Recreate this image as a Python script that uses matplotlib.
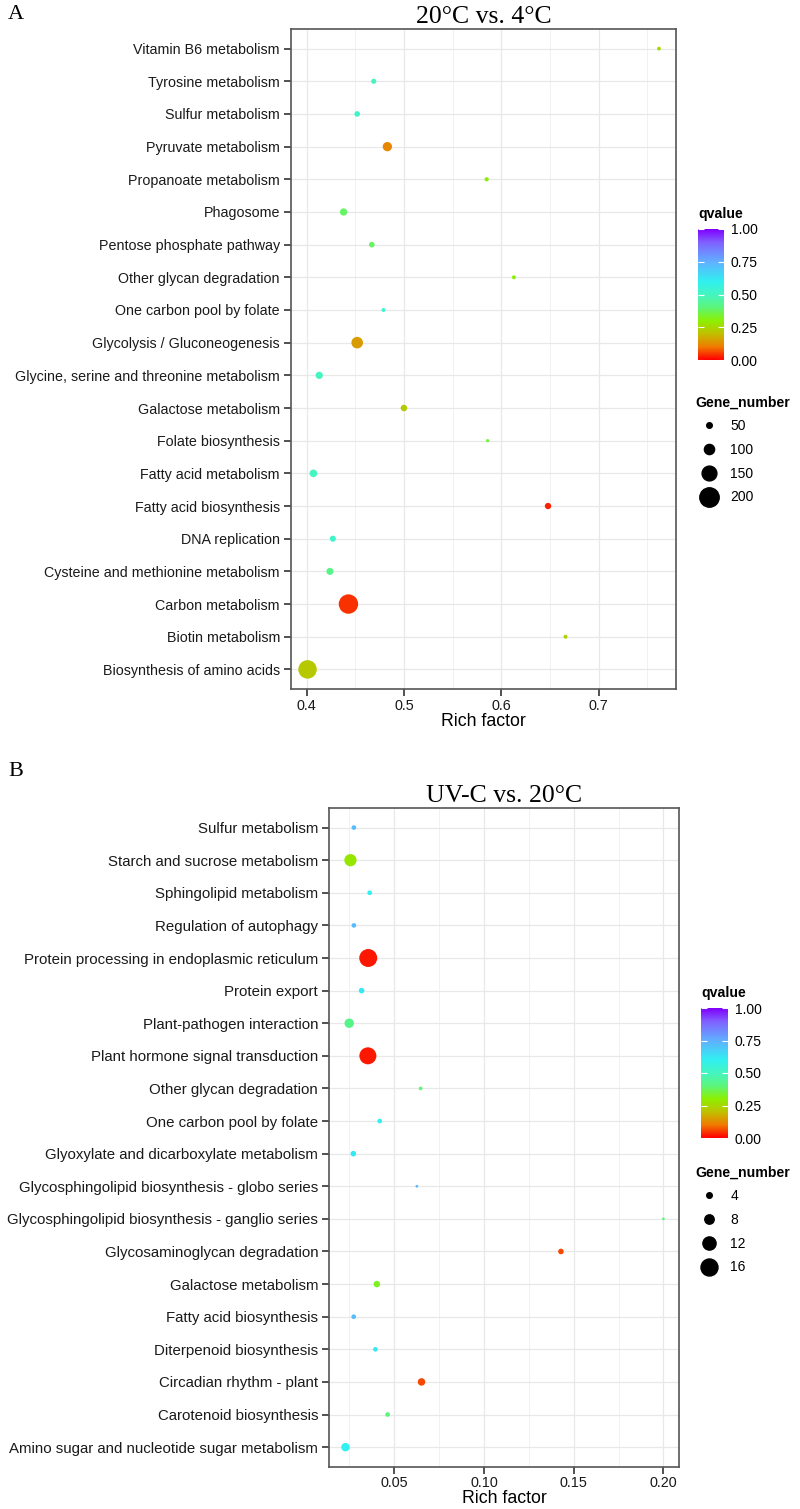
import matplotlib
matplotlib.use("Agg")
import matplotlib.pyplot as plt
import numpy as np
from matplotlib.colors import LinearSegmentedColormap, Normalize
from matplotlib.lines import Line2D

plt.rcParams['font.family'] = ['Liberation Sans', 'DejaVu Sans']

# panel A: 20°C vs. 4°C (top to bottom as shown)
terms_a = ["Vitamin B6 metabolism", "Tyrosine metabolism", "Sulfur metabolism",
           "Pyruvate metabolism", "Propanoate metabolism", "Phagosome",
           "Pentose phosphate pathway", "Other glycan degradation",
           "One carbon pool by folate", "Glycolysis / Gluconeogenesis",
           "Glycine, serine and threonine metabolism", "Galactose metabolism",
           "Folate biosynthesis", "Fatty acid metabolism", "Fatty acid biosynthesis",
           "DNA replication", "Cysteine and methionine metabolism",
           "Carbon metabolism", "Biotin metabolism", "Biosynthesis of amino acids"]
rich_a = [0.762, 0.469, 0.452, 0.483, 0.585, 0.438, 0.467, 0.613, 0.479, 0.452,
          0.413, 0.500, 0.586, 0.407, 0.648, 0.427, 0.424, 0.443, 0.666, 0.401]
q_a = [0.25, 0.50, 0.52, 0.12, 0.30, 0.38, 0.38, 0.30, 0.53, 0.15,
       0.50, 0.22, 0.35, 0.50, 0.03, 0.52, 0.42, 0.04, 0.24, 0.22]
genes_a = [30, 45, 50, 90, 35, 68, 50, 32, 32, 115,
           68, 60, 25, 72, 58, 55, 66, 200, 32, 190]

# panel B: UV-C vs. 20°C
terms_b = ["Sulfur metabolism", "Starch and sucrose metabolism",
           "Sphingolipid metabolism", "Regulation of autophagy",
           "Protein processing in endoplasmic reticulum", "Protein export",
           "Plant-pathogen interaction", "Plant hormone signal transduction",
           "Other glycan degradation", "One carbon pool by folate",
           "Glyoxylate and dicarboxylate metabolism",
           "Glycosphingolipid biosynthesis - globo series",
           "Glycosphingolipid biosynthesis - ganglio series",
           "Glycosaminoglycan degradation", "Galactose metabolism",
           "Fatty acid biosynthesis", "Diterpenoid biosynthesis",
           "Circadian rhythm - plant", "Carotenoid biosynthesis",
           "Amino sugar and nucleotide sugar metabolism"]
rich_b = [0.0275, 0.0256, 0.0363, 0.0275, 0.0355, 0.0318, 0.0249, 0.0353, 0.0647, 0.0419,
          0.0272, 0.0626, 0.2000, 0.1429, 0.0403, 0.0274, 0.0395, 0.0652, 0.0463, 0.0228]
q_b = [0.72, 0.28, 0.60, 0.72, 0.02, 0.62, 0.42, 0.02, 0.40, 0.60,
       0.62, 0.72, 0.40, 0.06, 0.33, 0.72, 0.62, 0.06, 0.40, 0.60]
genes_b = [3, 11, 3, 3, 17, 4, 8, 16, 2, 3,
           4, 1, 1, 4, 5, 3, 3, 6, 3, 7]

cmap = LinearSegmentedColormap.from_list("qv", [
    (0.0, "#FF0000"), (0.1, "#F07A00"), (0.2, "#C0C000"), (0.3, "#8CF000"),
    (0.4, "#5CF57A"), (0.5, "#45F5C0"), (0.6, "#30F0F0"), (0.75, "#60B0FF"),
    (0.9, "#8060FF"), (1.0, "#8000FF")])
norm = Normalize(0, 1)

W, H = 800, 1509
fig = plt.figure(figsize=(8, 15.09), dpi=100)


def size_a(n):
    d = 0.092 * np.asarray(n) + 1.0
    return (d * 0.72) ** 2


def size_b(n):
    d = 0.95 * np.asarray(n) + 1.8
    return (d * 0.72) ** 2


def panel(rect, terms, rich, q, genes, sizef, xlim, xticks, xfmt, xminor, title,
          cb_rect, leg_y, leg_vals, yfs):
    ax = fig.add_axes(rect)
    y = np.arange(len(terms))[::-1]
    ax.set_axisbelow(True)
    for v in xminor:
        ax.axvline(v, color="#EFEFEF", lw=0.6, zorder=0)
    ax.grid(True, color="#E8E8E8", lw=0.9)
    ax.scatter(rich, y, s=sizef(genes), c=q, cmap=cmap, norm=norm,
               edgecolors="none", zorder=3)
    ax.set_xlim(*xlim)
    ax.set_ylim(-0.6, len(terms) - 0.4)
    ax.set_yticks(y)
    ax.set_yticklabels(terms, fontsize=yfs, color="#1A1A1A")
    ax.set_xticks(xticks)
    ax.set_xticklabels([xfmt % t for t in xticks], fontsize=10.4, color="#1A1A1A")
    ax.set_xlabel("Rich factor", fontsize=12.8, labelpad=0)
    ax.tick_params(length=5, width=1.2, color="#333333", pad=3)
    ax.tick_params(axis="x", pad=2)
    for s in ax.spines.values():
        s.set_color("#555555")
        s.set_linewidth(1.2)
    ax.set_title(title, fontsize=18.5, family="Liberation Serif", pad=4)

    cax = fig.add_axes(cb_rect)
    cb = fig.colorbar(plt.cm.ScalarMappable(norm=norm, cmap=cmap), cax=cax)
    cb.outline.set_visible(False)
    cb.set_ticks([0, 0.25, 0.5, 0.75, 1.0])
    cb.set_ticklabels(["0.00", "0.25", "0.50", "0.75", "1.00"])
    cax.tick_params(labelsize=10, direction="in", color="white", length=4,
                    width=0.8, left=True, right=True, pad=5)
    cax.set_title("qvalue", fontsize=10.2, fontweight="bold", loc="left", pad=8)

    handles = [Line2D([], [], ls="", marker="o", color="black",
                      markersize=np.sqrt(sizef(v))) for v in leg_vals]
    fig.legend(handles, [str(v) for v in leg_vals], title="Gene_number",
               loc="upper left", bbox_to_anchor=(690 / W, leg_y),
               frameon=False, fontsize=10, labelspacing=0.7,
               handletextpad=0.5, borderaxespad=0, alignment="left",
               title_fontproperties={"weight": "bold", "size": 10.2})
    return ax


panel([291 / W, 1 - 689 / H, 385 / W, 660 / H], terms_a, rich_a, q_a, genes_a,
      size_a, (0.384, 0.7795), [0.4, 0.5, 0.6, 0.7], "%.1f",
      [0.45, 0.55, 0.65, 0.75],
      "20\u00b0C vs. 4\u00b0C", [698 / W, 1 - 360 / H, 26 / W, 131 / H],
      1 - 390 / H, [50, 100, 150, 200], 10.3)

panel([329.3 / W, 1 - 1466.7 / H, 349.7 / W, 658.7 / H], terms_b, rich_b, q_b,
      genes_b, size_b, (0.0138, 0.2087), [0.05, 0.10, 0.15, 0.20], "%.2f",
      [0.025, 0.075, 0.125, 0.175], "UV-C vs. 20\u00b0C",
      [701 / W, 1 - 1138 / H, 27 / W, 130 / H], 1 - 1160 / H, [4, 8, 12, 16],
      10.8)

fig.text(8 / W, 1 - 19 / H, "A", fontsize=16, family="Liberation Serif")
fig.text(8 / W, 1 - 776 / H, "B", fontsize=16, family="Liberation Serif")

fig.savefig("out.png", dpi=100)
